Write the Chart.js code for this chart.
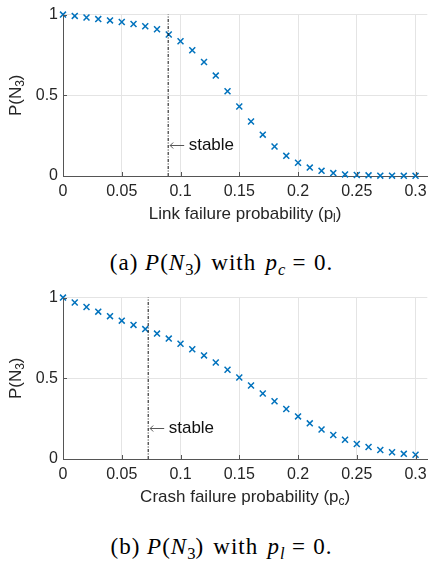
<!DOCTYPE html>
<html>
<head>
<meta charset="utf-8">
<script src="https://cdn.jsdelivr.net/npm/chart.js@4.4.1/dist/chart.umd.min.js"></script>
<style>
  body { margin: 0; background: #fff; width: 433px; height: 564px; position: relative; overflow: hidden; }
  .panel { position: absolute; left: 0; width: 433px; height: 230px; }
  .caption { position: absolute; left: 0; width: 423px; padding-left: 10px; text-align: center; white-space: nowrap;
    font-family: 'Liberation Serif', 'DejaVu Serif', serif; font-size: 23px; letter-spacing: 1px;
    color: #000; line-height: 26px; }
  .caption sub { font-size: 72%; vertical-align: -0.28em; line-height: 0; letter-spacing: 0; }
  .caption .rel { margin: 0 0.32em; }
  .caption .gap { margin: 0 0.4em; }
</style>
</head>
<body>
<div class="panel" style="top:0"><canvas id="link-chart"></canvas></div>
<div class="caption" style="top:250px">(a) <i>P</i>(<i>N</i><sub>3</sub>)<span class="gap">with</span><i>p</i><sub><i>c</i></sub><span class="rel">=</span>0.</div>
<div class="panel" style="top:283px"><canvas id="crash-chart"></canvas></div>
<div class="caption" style="top:534px">(b) <i>P</i>(<i>N</i><sub>3</sub>)<span class="gap">with</span><i>p</i><sub><i>l</i></sub><span class="rel">=</span>0.</div>

<script>
'use strict';

// failure probabilities on the x axis
const failureProbs = [0, 0.01, 0.02, 0.03, 0.04, 0.05, 0.06, 0.07, 0.08, 0.09, 0.10,
  0.11, 0.12, 0.13, 0.14, 0.15, 0.16, 0.17, 0.18, 0.19, 0.20,
  0.21, 0.22, 0.23, 0.24, 0.25, 0.26, 0.27, 0.28, 0.29, 0.30];

// P(N3) for link failures (pc = 0)
const linkN3 = [1.000, 0.992, 0.982, 0.972, 0.964, 0.954, 0.942, 0.928, 0.909, 0.877, 0.835,
  0.779, 0.706, 0.622, 0.525, 0.431, 0.338, 0.256, 0.183, 0.125, 0.082,
  0.052, 0.032, 0.018, 0.010, 0.006, 0.004, 0.002, 0.002, 0.001, 0.001];

// P(N3) for crash failures (pl = 0)
const crashN3 = [1.000, 0.970, 0.942, 0.913, 0.885, 0.857, 0.831, 0.805, 0.777, 0.746, 0.714,
  0.680, 0.642, 0.598, 0.553, 0.505, 0.455, 0.406, 0.358, 0.310, 0.264,
  0.221, 0.183, 0.149, 0.119, 0.093, 0.074, 0.056, 0.042, 0.032, 0.026];

// stability limits marked with a dash-dot line
const stableLimits = [0.0895, 0.0725];
const stableLabelY = 0.195;

const xTicks = [0, 0.05, 0.1, 0.15, 0.2, 0.25, 0.3];
const yTicks = [0, 0.5, 1];

const MARKER_COLOR = '#0072BD',
  AXIS_COLOR = '#555555',
  GRID_COLOR = '#e4e4e4',
  TEXT_COLOR = '#262626',
  FONT_FAMILY = "'Liberation Sans', Arial, sans-serif",
  FONT_SIZE = 16,
  TITLE_SIZE = 17,
  SUB_SIZE = 12;

// draws a string made of [text, isSubscript] pieces centred on x
function drawSubText(ctx, parts, x, y) {
  const main = TITLE_SIZE + 'px ' + FONT_FAMILY,
    sub = SUB_SIZE + 'px ' + FONT_FAMILY;
  let width = 0;
  parts.forEach(function (p) {
    ctx.font = p[1] ? sub : main;
    width += ctx.measureText(p[0]).width;
  });
  let cx = x - width / 2;
  ctx.textBaseline = 'middle';
  ctx.textAlign = 'left';
  parts.forEach(function (p) {
    ctx.font = p[1] ? sub : main;
    ctx.fillText(p[0], cx, p[1] ? y + 5 : y);
    cx += ctx.measureText(p[0]).width;
  });
}

function decorPlugin(xTitle, stableX) {
  return {
    id: 'decor',
    afterDraw: function (chart) {
      const ctx = chart.ctx,
        area = chart.chartArea,
        xs = chart.scales.x,
        ys = chart.scales.y;
      ctx.save();

      // inward tick marks
      ctx.strokeStyle = AXIS_COLOR;
      ctx.lineWidth = 1;
      ctx.beginPath();
      xTicks.forEach(function (v) {
        const px = Math.round(xs.getPixelForValue(v)) + 0.5;
        ctx.moveTo(px, area.bottom);
        ctx.lineTo(px, area.bottom - 4);
      });
      yTicks.forEach(function (v) {
        const py = Math.round(ys.getPixelForValue(v)) + 0.5;
        ctx.moveTo(area.left, py);
        ctx.lineTo(area.left + 4, py);
      });
      ctx.stroke();

      // axis titles
      ctx.fillStyle = TEXT_COLOR;
      drawSubText(ctx, xTitle, (area.left + area.right) / 2, area.bottom + 38);
      ctx.translate(16, (area.top + area.bottom) / 2);
      ctx.rotate(-Math.PI / 2);
      drawSubText(ctx, [['P(N', false], ['3', true], [')', false]], 0, 0);
      ctx.setTransform(1, 0, 0, 1, 0, 0);

      // stable label with a left arrow
      const lx = xs.getPixelForValue(stableX),
        ly = Math.round(ys.getPixelForValue(stableLabelY)) + 0.5;
      ctx.strokeStyle = '#444444';
      ctx.lineWidth = 0.9;
      ctx.beginPath();
      ctx.moveTo(lx + 2, ly);
      ctx.lineTo(lx + 16, ly);
      ctx.moveTo(lx + 5, ly - 3);
      ctx.lineTo(lx + 2, ly);
      ctx.lineTo(lx + 5, ly + 3);
      ctx.stroke();
      ctx.textBaseline = 'middle';
      ctx.textAlign = 'left';
      ctx.font = TITLE_SIZE + 'px ' + FONT_FAMILY;
      ctx.fillStyle = '#111111';
      ctx.fillText('stable', lx + 20.5, ly);
      ctx.restore();
    }
  };
}

function newFailureChart(element, values, stableX, xTitle) {
  const points = failureProbs.map(function (p, i) { return { x: p, y: values[i] }; });
  const tickFont = { family: FONT_FAMILY, size: FONT_SIZE };

  return new Chart(element, {
    type: 'scatter',
    data: {
      datasets: [{
        data: [{ x: stableX, y: 0 }, { x: stableX, y: 1 }],
        showLine: true,
        borderColor: '#111111',
        borderWidth: 1,
        borderDash: [3, 1.5, 1, 1.5],
        pointRadius: 0,
        clip: false
      }, {
        data: points,
        pointStyle: 'crossRot',
        pointRadius: 4.2,
        pointBorderWidth: 1.5,
        borderColor: MARKER_COLOR,
        backgroundColor: MARKER_COLOR,
        clip: false
      }]
    },
    options: {
      responsive: true,
      maintainAspectRatio: false,
      animation: false,
      layout: { padding: { top: 10, left: 0, right: 0, bottom: 0 } },
      plugins: { legend: { display: false }, tooltip: { enabled: false } },
      scales: {
        x: {
          type: 'linear',
          min: 0,
          max: 0.31,
          afterBuildTicks: function (scale) {
            scale.ticks = xTicks.map(function (v) { return { value: v }; });
          },
          afterFit: function (scale) { scale.height = 54; },
          ticks: {
            color: TEXT_COLOR,
            font: tickFont,
            padding: 6,
            maxRotation: 0,
            autoSkip: false,
            callback: function (v) { return String(+v.toFixed(2)); }
          },
          grid: { color: GRID_COLOR, drawTicks: false },
          border: { color: AXIS_COLOR }
        },
        y: {
          min: 0,
          max: 1,
          afterBuildTicks: function (scale) {
            scale.ticks = yTicks.map(function (v) { return { value: v }; });
          },
          afterFit: function (scale) { scale.width = 63; },
          ticks: {
            color: TEXT_COLOR,
            font: tickFont,
            padding: 5,
            callback: function (v) { return String(v); }
          },
          grid: { color: GRID_COLOR, drawTicks: false },
          border: { color: AXIS_COLOR }
        }
      }
    },
    plugins: [decorPlugin(xTitle, stableX)]
  });
}

newFailureChart(document.getElementById('link-chart'), linkN3, stableLimits[0],
  [['Link failure probability (p', false], ['l', true], [')', false]]);
newFailureChart(document.getElementById('crash-chart'), crashN3, stableLimits[1],
  [['Crash failure probability (p', false], ['c', true], [')', false]]);
</script>
</body>
</html>
